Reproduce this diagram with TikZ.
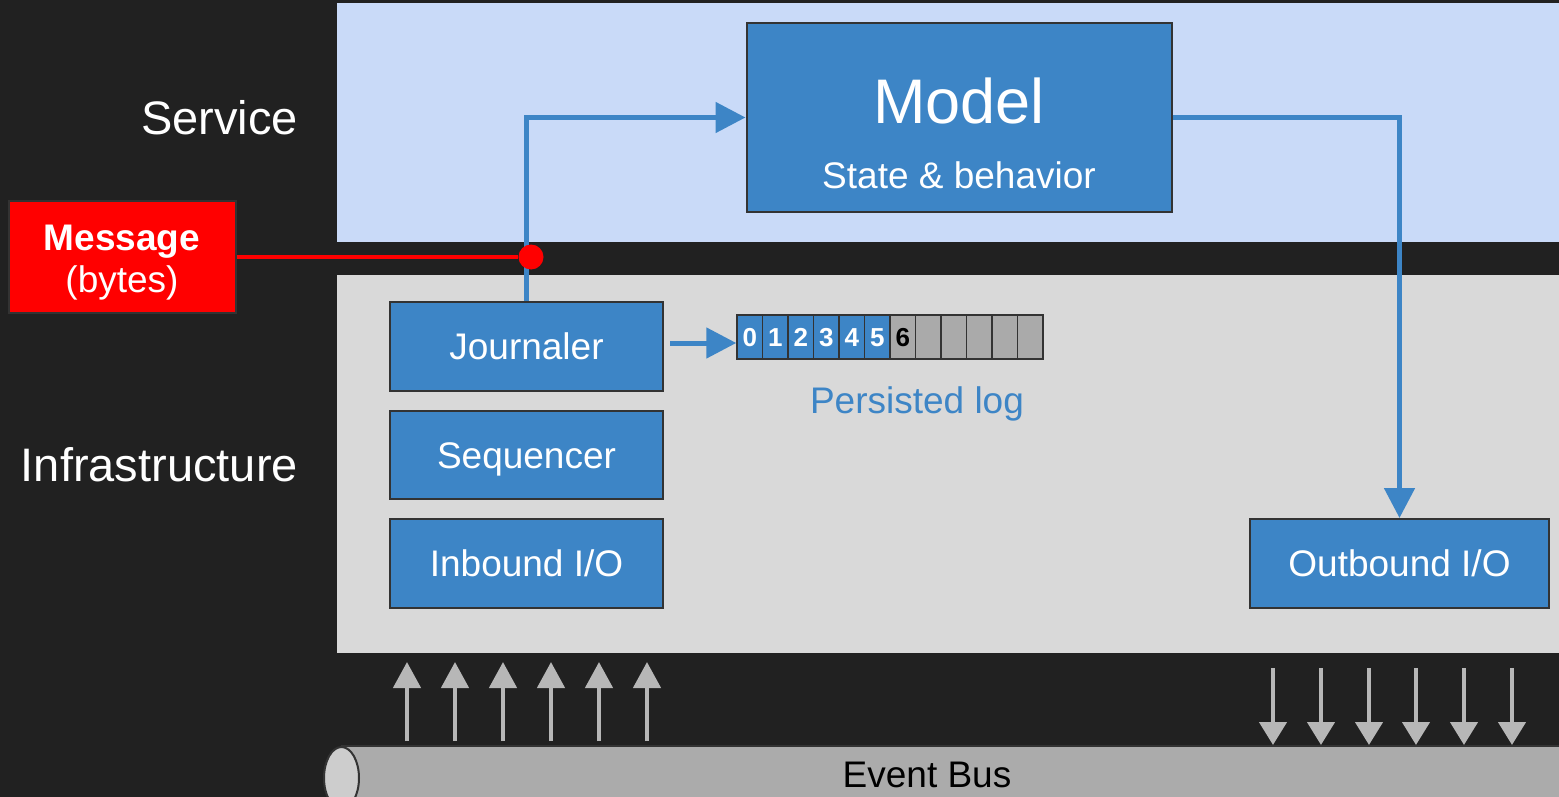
\documentclass[tikz,border=0pt]{standalone}
\usepackage{fontspec}
\setmainfont{Liberation Sans}
\usetikzlibrary{arrows.meta,shapes.geometric}

\definecolor{pagebg}{HTML}{212121}
\definecolor{servicebg}{HTML}{C9DAF8}
\definecolor{infrabg}{HTML}{D9D9D9}
\definecolor{boxblue}{HTML}{3D85C6}
\definecolor{edge}{HTML}{333333}
\definecolor{msgred}{HTML}{FF0000}
\definecolor{cellgray}{HTML}{AAAAAA}
\definecolor{arrowgray}{HTML}{B7B7B7}
\definecolor{busbody}{HTML}{ABABAB}
\definecolor{busend}{HTML}{CDCDCD}

\newcommand\pxfont[1]{\fontsize{#1}{#1}\selectfont}

\begin{document}
\begin{tikzpicture}[x=1pt,y=-1pt,
  box/.style={draw=edge, line width=2pt, fill=boxblue, text=white,
    inner sep=0pt, text height=26.5pt, text depth=0pt, font=\pxfont{37}},
  msgbox/.style={draw=edge, line width=2pt, fill=msgred, inner sep=0pt},
  whitetext/.style={text=white, inner sep=0pt},
  flow/.style={draw=boxblue, line width=5pt,
    -{Triangle[length=30pt,width=30pt]}},
  logcell/.style={draw=edge, line width=1.5pt, minimum width=25.5pt,
    minimum height=44pt, inner sep=0pt, text height=18.6pt, text depth=0pt,
    font=\pxfont{26}\bfseries},
  busarrowup/.style={draw=arrowgray, line width=4.5pt,
    -{Triangle[length=26pt,width=27pt]}},
  busarrowdown/.style={draw=arrowgray, line width=4.5pt,
    -{Triangle[length=23pt,width=27pt]}},
]
\useasboundingbox (0,0) rectangle (1559,797);
\clip (0,0) rectangle (1559,797);

% backdrop and the two layers
\fill[pagebg] (0,0) rectangle (1559,797);
\fill[servicebg] (337,3) rectangle (1559,242);
\fill[infrabg] (337,275) rectangle (1559,653);

% layer titles
\node[whitetext, anchor=base east, font=\pxfont{47}] (servicelbl) at (298,135) {Service};
\node[whitetext, anchor=base east, font=\pxfont{47}] (infralbl) at (298,481) {Infrastructure};

% service model
\node[draw=edge, line width=2pt, fill=boxblue, minimum width=425pt,
      minimum height=189pt, inner sep=0pt] (model) at (959,117.5) {};
\node[whitetext, anchor=base, font=\pxfont{63}] (modeltitle)
      at ([yshift=-6.5pt]model.center) {Model};
\node[whitetext, anchor=base, font=\pxfont{37}] (modelsub)
      at ([yshift=-71.5pt]model.center) {State \& behavior};

% infrastructure components
\node[box, minimum width=273pt, minimum height=89pt] (journ) at (526.5,346) {Journaler};
\node[box, minimum width=273pt, minimum height=88pt] (seq) at (526.5,455) {Sequencer};
\node[box, minimum width=273pt, minimum height=89pt] (inb) at (526.5,563.5) {Inbound I/O};
\node[box, minimum width=299pt, minimum height=89pt] (outb) at (1399.5,563.5) {Outbound I/O};

% persisted log
\foreach \i in {0,...,5}
  \node[logcell, fill=boxblue, text=white] (cell\i) at (749.75+25.5*\i,337) {\i};
\node[logcell, fill=cellgray, text=black] (cell6) at (749.75+25.5*6,337) {6};
\foreach \i in {7,...,11}
  \node[logcell, fill=cellgray] (cell\i) at (749.75+25.5*\i,337) {};
\node[text=boxblue, inner sep=0pt, anchor=base, font=\pxfont{37}] (loglbl)
      at (917,413) {Persisted log};

% incoming message
\node[msgbox, minimum width=227pt, minimum height=112pt] (msg) at (122,257) {};
\node[whitetext, anchor=base, font=\pxfont{37}\bfseries] (msgtitle)
      at ([yshift=7pt]msg.center) {Message};
\node[whitetext, anchor=base, font=\pxfont{37}] (msgsub)
      at ([yshift=-35pt]msg.center) {(bytes)};

% flow of a message
\draw[flow] (journ.north) |- (model.west);
\draw[flow] (model.east) -| (outb.north);
\coordinate (jout) at (670,343);
\draw[flow] (jout) -- (jout -| cell0.west);
\node[circle, fill=msgred, minimum size=25pt, inner sep=0pt] (tap) at (531,257) {};
\draw[msgred, line width=3.5pt] (msg.east) -- (tap);

% event bus
\fill[busbody] (341,746) rectangle (1600,830);
\draw[edge, line width=1.5pt] (341,746) -- (1600,746);
\node[draw=edge, line width=2pt, fill=busend, ellipse, minimum width=35pt,
      minimum height=62pt, inner sep=0pt] (busleft) at (341.5,778) {};
\node[text=black, inner sep=0pt, anchor=base, font=\pxfont{37}] (buslbl)
      at (927,787) {Event Bus};

% traffic between bus and infrastructure
\foreach \x [count=\k] in {407,455,503,551,599,647} {
  \coordinate (upfrom\k) at (\x,741);
  \coordinate (upto\k) at (\x,662);
  \draw[busarrowup] (upfrom\k) -- (upto\k);
}
\foreach \x [count=\k] in {1273,1321,1369,1416,1464,1512} {
  \coordinate (downfrom\k) at (\x,668);
  \coordinate (downto\k) at (\x,745);
  \draw[busarrowdown] (downfrom\k) -- (downto\k);
}
\end{tikzpicture}
\end{document}
